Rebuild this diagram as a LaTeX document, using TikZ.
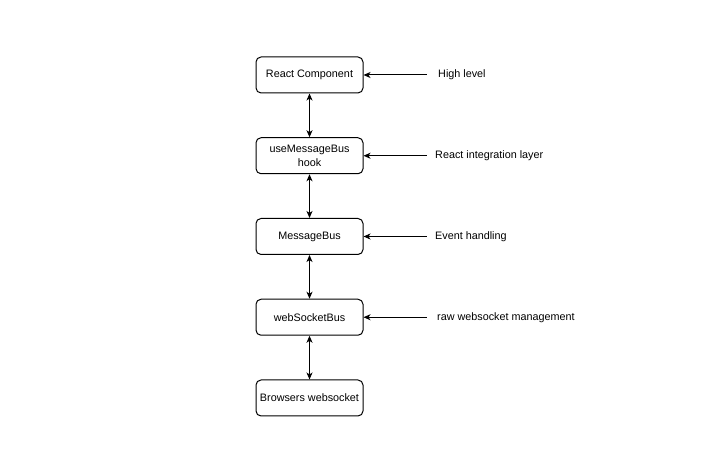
\documentclass[tikz,border=0pt]{standalone}
\usepackage{fontspec}
\setmainfont{Liberation Sans}
\usetikzlibrary{positioning, arrows.meta}

\begin{document}
\begin{tikzpicture}[
					x=1pt, y=1pt,
					node distance=80.75pt,
					layer/.style={draw, rounded corners=5pt, line width=1pt, minimum width=107pt, minimum height=36pt, inner sep=2pt, align=center, font=\fontsize{10.8}{13.5}\selectfont},
					note/.style={inner sep=0pt, anchor=west, font=\fontsize{10.8}{13.5}\selectfont},
					link/.style={line width=1pt, -{Stealth[length=7pt, width=6pt, inset=2pt]}},
					both/.style={line width=1pt, {Stealth[length=7pt, width=6pt, inset=2pt]}-{Stealth[length=7pt, width=6pt, inset=2pt]}}
					]
					\useasboundingbox (0,0) rectangle (723,473);
					% Layers
					\node [layer] (React) at (309.5,398) {React Component};
					\node [layer, below of=React] (Hook) {useMessageBus\\hook};
					\node [layer, below of=Hook] (MsgBus) {MessageBus};
					\node [layer, below of=MsgBus] (WsBus) {webSocketBus};
					\node [layer, below of=WsBus] (Browser) {Browsers websocket};
					
					% Notes
					\node [note, right=74.5pt of React] (HighLvl) {High level};
					\node [note, right=71.5pt of Hook] (Integr) {React integration layer};
					\node [note, right=71.5pt of MsgBus] (Events) {Event handling};
					\node [note, right=73.5pt of WsBus] (RawWs) {raw websocket management};
					\coordinate (HighLvlEnd) at ([xshift=63pt]React.east);
					\coordinate (IntegrEnd) at ([xshift=63pt]Hook.east);
					\coordinate (EventsEnd) at ([xshift=63pt]MsgBus.east);
					\coordinate (RawWsEnd) at ([xshift=63pt]WsBus.east);
					
					% Edges
					\draw [both] (React) -- (Hook);
					\draw [both] (Hook) -- (MsgBus);
					\draw [both] (MsgBus) -- (WsBus);
					\draw [both] (WsBus) -- (Browser);
					\draw [link] (HighLvlEnd) -- (React);
					\draw [link] (IntegrEnd) -- (Hook);
					\draw [link] (EventsEnd) -- (MsgBus);
					\draw [link] (RawWsEnd) -- (WsBus);
				\end{tikzpicture}
\end{document}
